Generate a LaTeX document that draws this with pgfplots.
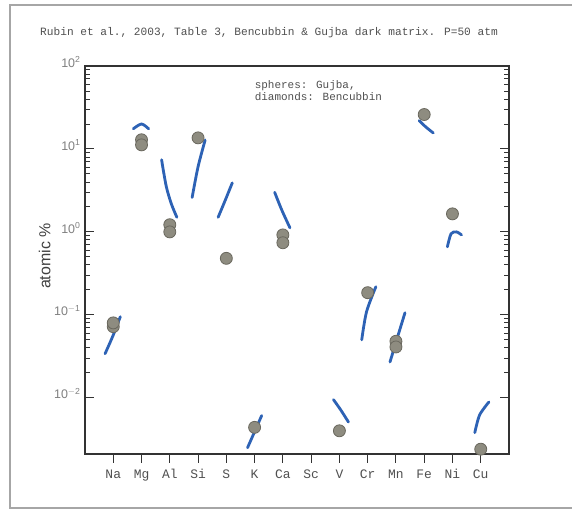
\documentclass[border=0pt]{standalone}
\usepackage{pgfplots}
\pgfplotsset{compat=1.18}
\usepackage{fontspec}
\setmainfont{Liberation Sans}
\newfontfamily\cour{Liberation Mono}
\definecolor{sph}{HTML}{8E8C80}
\definecolor{sphd}{HTML}{6A685E}
\definecolor{bluec}{HTML}{2D62B5}
\definecolor{txt}{HTML}{505050}
\begin{document}
\begin{tikzpicture}
\useasboundingbox[fill=white] (0bp,0bp) rectangle (572bp,511bp);
\draw[gray!70, line width=1.2bp] (572bp,506bp) -- (10bp,506bp) -- (10bp,3bp) -- (572bp,3bp);
\node[font=\cour\fontsize{11.2}{11.2}\selectfont, text=txt] at (269bp,478bp) {Rubin et al., 2003, Table 3, Bencubbin \& Gujba dark matrix. P=50 atm};
\begin{axis}[
  at={(85bp,57bp)}, anchor=south west,
  scale only axis, width=424bp, height=388bp,
  ymode=log, ymin=0.0021, ymax=100,
  xmin=0, xmax=15,
  xtick={1,...,14},
  xticklabels={Na,Mg,Al,Si,S,K,Ca,Sc,V,Cr,Mn,Fe,Ni,Cu},
  xtick pos=left,
  xtick align=outside, ytick align=inside,
  ytick pos=both, yticklabel pos=left,
  ytick={0.01,0.1,1,10,100},
  yticklabels={10\textsuperscript{$-$2},10\textsuperscript{$-$1},10\textsuperscript{0},10\textsuperscript{1},10\textsuperscript{2}},
  major tick length=9bp, minor tick length=5bp,
  axis line style={line width=1.3bp, black!80},
  every tick/.style={black!80, line width=0.9bp},
  xticklabel style={font=\cour\fontsize{13}{13}\selectfont, text=txt, yshift=-3bp},
  yticklabel style={font=\fontsize{12.5}{12.5}\selectfont, text=black!50, yshift=4bp, xshift=-1bp},
  ylabel={atomic \%},
  ylabel style={font=\fontsize{16}{16}\selectfont, text=black!75, at={(-31bp,0.51)}},
  clip=false,
]
% spheres: Gujba
\addplot[only marks, mark=*, mark size=6bp, mark options={fill=sph, draw=sphd, line width=0.8bp}] coordinates {
(1,0.072) (1,0.08)
(2,12.9) (2,11.2)
(3,1.22) (3,1.0)
(4,13.6)
(5,0.48)
(6,0.0044)
(7,0.92) (7,0.74)
(9,0.0040)
(10,0.185)
(11,0.048) (11,0.041)
(12,26)
(13,1.65)
(14,0.0024)
};
% diamonds: Bencubbin (hand-drawn ranges)
\pgfplotsset{bc/.style={bluec, line width=2.8bp, smooth, line cap=round, no marks}}
\addplot[bc] coordinates {(0.71,0.034) (0.98,0.055) (1.25,0.095)};
\addplot[bc] coordinates {(1.71,17.5) (2.0,20) (2.25,17.5)};
\addplot[bc] coordinates {(2.71,7.4) (2.87,3.6) (3.05,2.2) (3.25,1.5)};
\addplot[bc] coordinates {(3.79,2.6) (4.0,6.1) (4.25,12.8)};
\addplot[bc] coordinates {(4.71,1.5) (4.96,2.4) (5.21,3.9)};
\addplot[bc] coordinates {(5.75,0.0025) (6.0,0.0039) (6.25,0.0061)};
\addplot[bc] coordinates {(6.71,3.0) (6.96,1.84) (7.25,1.12)};
\addplot[bc] coordinates {(8.79,0.0095) (9.04,0.0072) (9.32,0.0051)};
\addplot[bc] coordinates {(9.79,0.050) (9.96,0.109) (10.29,0.218)};
\addplot[bc] coordinates {(10.79,0.027) (11.05,0.053) (11.32,0.106)};
\addplot[bc] coordinates {(11.82,22) (12.05,18.5) (12.32,15.6)};
\addplot[bc] coordinates {(12.82,0.66) (12.95,0.95) (13.14,1.0) (13.32,0.92)};
\addplot[bc] coordinates {(13.79,0.0038) (13.96,0.0062) (14.29,0.0089)};
\node[anchor=north west, align=left, font=\cour\fontsize{11}{12}\selectfont, text=txt, inner sep=0pt] at (rel axis cs:0.40,0.963) {spheres: Gujba,\\diamonds: Bencubbin};
\end{axis}
\end{tikzpicture}
\end{document}
